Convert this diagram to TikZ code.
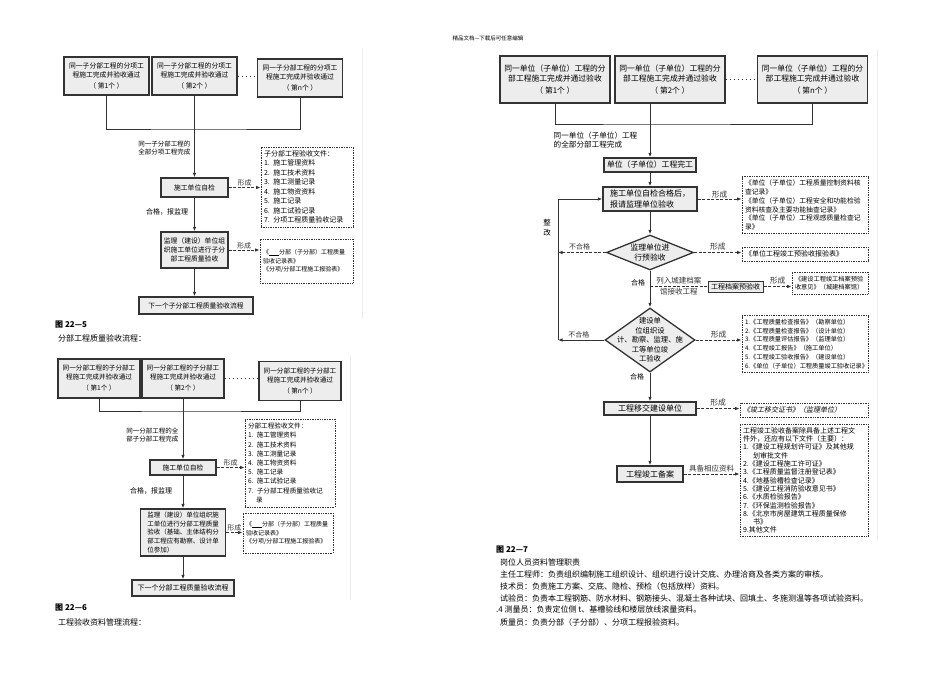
\documentclass[tikz,border=0pt]{standalone}
\usepackage{fontspec}
\setmainfont{Noto Sans CJK SC}
\newfontfamily\slantcjk[FakeSlant=0.2]{Noto Sans CJK SC}
\usetikzlibrary{arrows.meta,shapes.geometric}
\colorlet{boxgray}{black!7}
\colorlet{linegray}{black!80}
\colorlet{scanedge}{black!8}
\tikzset{
  procbox/.style={draw=linegray, line width=1.3pt, fill=boxgray, align=center, inner sep=1pt,
    font=\fontsize{6.8}{9}\selectfont},
  filebox/.style={draw=linegray, line width=0.8pt, dash pattern=on 0.8pt off 0.9pt, fill=white,
    align=left, inner sep=3pt, font=\fontsize{7}{9.5}\selectfont},
  decide/.style={diamond, draw=linegray, line width=1.3pt, fill=boxgray, inner sep=0pt},
  wire/.style={linegray, line width=1pt},
  flow/.style={wire, -{Latex[length=4.5pt,width=3.5pt]}},
  form/.style={flow, dash pattern=on 3pt off 1.5pt},
  gap/.style={wire, dash pattern=on 1pt off 3pt},
  tag/.style={inner sep=0.5pt, font=\fontsize{7}{8.5}\selectfont},
  caption/.style={anchor=west, inner sep=0pt, font=\fontsize{8}{9}\selectfont},
}

\begin{document}
\begin{tikzpicture}[x=1pt,y=-1pt]
  \useasboundingbox (0,0) rectangle (950,672);
  \node[font=\fontsize{5.5}{6}\selectfont] (head) at (488,38) {精品文档---下载后可任意编辑};
  % scan edges
  \draw[scanedge] (362,48) -- (362,318);
  \draw[scanedge] (350,355) -- (350,600);
  \draw[scanedge] (877,50) -- (877,540);

  % fig 22-5
  \foreach \i/\x/\y/\k in {1/106.5/76/1,2/194.5/76/2,3/300/78/n}{
    \node[procbox, minimum width=85, minimum height=38] (a\i) at (\x,\y)
      {同一子分部工程的分项工\\程施工完成并验收通过\\[2pt]（ 第\k 个 ）};
  }
  \draw[gap] (a2.east) -- (a2.east -| a3.west);
  \coordinate (a-join) at (194.5,129);
  \draw[wire] (a1.south) |- (a-join) -| (a3.south);
  \draw[wire] (a2.south) -- (a-join);
  \node[tag, align=right, anchor=east, font=\fontsize{6.5}{8.5}\selectfont] (a-done) at (191,148)
    {同一子分部工程的\\全部分项工程完成};
  \node[procbox, minimum width=67, minimum height=19] (a4) at (194.5,187.5) {施工单位自检};
  \draw[flow] (a-join) -- (a4.north);
  \node[filebox, text width=86, minimum height=80] (af1) at (307,187)
    {子分部工程验收文件：\\1. 施工管理资料\\2. 施工技术资料\\3. 施工测量记录\\4. 施工物资资料\\5. 施工记录\\6. 施工试验记录\\7. 分项工程质量验收记录};
  \draw[form] (a4.east) -- (a4.east -| af1.west) node[tag, midway, above] (a-form1) {形成};
  \node[tag] (a-ok) at (167,212) {合格，报监理};
  \node[procbox, minimum width=67, minimum height=36] (a5) at (194.5,250)
    {监理（建设）单位组\\织施工单位进行子分\\部工程质量验收};
  \draw[flow] (a4) -- (a5);
  \node[filebox, text width=87, minimum height=44, font=\fontsize{6}{8.5}\selectfont] (af2) at (306.5,261)
    {《\rule[-0.5pt]{10pt}{0.5pt}分部（子分部）工程质量\\验收记录表》\\《分项/分部工程施工报验表》};
  \draw[form] (a5.east) -- (a5.east -| af2.west) node[tag, midway, above] (a-form2) {形成};
  \node[procbox, minimum width=114, minimum height=17] (a6) at (196,305.5) {下一个子分部工程质量验收流程};
  \draw[flow] (a5.south) -- (a5.south |- a6.north);
  \node[caption, font=\bfseries\fontsize{8}{9}\selectfont] (fig5) at (55,325) {图 22—5};
  \node[caption] (fig5-t) at (58,338) {分部工程质量验收流程：};

  % fig 22-6
  \foreach \i/\x/\y/\k in {1/99/378.5/1,2/183/378.5/2,3/300/381/n}{
    \node[procbox, minimum width=82, minimum height=39, font=\fontsize{6.6}{9}\selectfont] (b\i) at (\x,\y)
      {同一分部工程的子分部工\\程施工完成并验收通过\\[2pt]（ 第\k 个 ）};
  }
  \draw[gap] (b2.east) -- (b2.east -| b3.west);
  \coordinate (b-join) at (183,411);
  \draw[wire] (b1.south) |- (b-join) -| (b3.south);
  \draw[wire] (b2.south) -- (b-join);
  \node[tag, align=right, anchor=east, font=\fontsize{6.5}{8.5}\selectfont] (b-done) at (179,435)
    {同一分部工程的全\\部子分部工程完成};
  \node[procbox, minimum width=66, minimum height=15] (b4) at (183,467.5) {施工单位自检};
  \draw[flow] (b-join) -- (b4.north);
  \node[filebox, text width=84, minimum height=88, font=\fontsize{6.6}{9.2}\selectfont] (bf1) at (290,463)
    {分部工程验收文件：\\1. 施工管理资料\\2. 施工技术资料\\3. 施工测量记录\\4. 施工物资资料\\5. 施工记录\\6. 施工试验记录\\7. 子分部工程质量验收记\\\hspace*{8pt}录};
  \draw[form] (b4.east) -- (b4.east -| bf1.west) node[tag, midway, above] (b-form1) {形成};
  \node[tag] (b-ok) at (151,491) {合格，报监理};
  \node[procbox, minimum width=85, minimum height=47, align=left, font=\fontsize{6.5}{8.6}\selectfont] (b5) at (183,532.5)
    {监理（建设）单位组织施\\工单位进行分部工程质量\\验收（基础、主体结构分\\部工程应有勘察、设计单\\位参加）};
  \draw[flow] (b4) -- (b5);
  \node[filebox, text width=84, minimum height=40, font=\fontsize{6}{8.5}\selectfont] (bf2) at (288,533)
    {《\rule[-0.5pt]{10pt}{0.5pt}分部（子分部）工程质量\\验收记录表》\\《分项/分部工程施工报验表》};
  \draw[form] (b5.east) -- (b5.east -| bf2.west) node[tag, midway, above] (b-form2) {形成};
  \node[procbox, minimum width=102, minimum height=16, font=\fontsize{7}{9}\selectfont] (b6) at (183,588) {下一个分部工程质量验收流程};
  \draw[flow] (b5) -- (b6);
  \node[caption, font=\bfseries\fontsize{8}{9}\selectfont] (fig6) at (55,608) {图 22—6};
  \node[caption] (fig6-t) at (58,622) {工程验收资料管理流程：};

  % fig 22-7
  \foreach \i/\x/\k in {1/555/1,2/670/2,3/812.5/n}{
    \node[procbox, minimum width=110, minimum height=47, font=\fontsize{7.8}{10}\selectfont] (c\i) at (\x,79.5)
      {同一单位（子单位）工程的分\\部工程施工完成并通过验收\\[2pt]（ 第\k 个 ）};
  }
  \draw[gap] (c2.east) -- (c3.west);
  \coordinate (c-join) at (650,124);
  \draw[wire] (c1.south) |- (c-join) -| (c3.south);
  \draw[wire] (c2.south -| c-join) -- (c-join);
  \node[tag, align=left, anchor=west, font=\fontsize{7.6}{9.5}\selectfont] (c-done) at (553,140)
    {同一单位（子单位）工程\\的全部分部工程完成};
  \node[procbox, minimum width=92, minimum height=14, font=\fontsize{7.8}{9}\selectfont] (c4) at (650,165) {单位（子单位）工程完工};
  \draw[flow] (c-join) -- (c4);
  \node[procbox, minimum width=94, minimum height=24, align=left, font=\fontsize{8}{10.5}\selectfont] (c5) at (650,199)
    {施工单位自检合格后，\\报请监理单位验收};
  \draw[flow] (c4) -- (c5);
  \node[filebox, text width=120, minimum height=56, font=\fontsize{6.8}{8.8}\selectfont] (cf1) at (805,205)
    {《单位（子单位）工程质量控制资料核\\查记录》\\《单位（子单位）工程安全和功能检验\\资料核查及主要功能抽查记录》\\《单位（子单位）工程观感质量检查记\\录》};
  \draw[form] (c5.east) -- (c5.east -| cf1.west) node[tag, midway, above, font=\fontsize{7.8}{9}\selectfont] (c-form1) {形成};

  \node[decide, minimum width=87, minimum height=35] (d1) at (650,252.5) {};
  \node[font=\fontsize{7.8}{10}\selectfont, align=center, inner sep=0pt] (d1t) at (d1) {监理单位进\\行预验收};
  \draw[flow] (c5) -- (d1);
  \coordinate (redo) at (558,0);
  \draw[form] (d1.west) -- (d1.west -| redo) node[tag, pos=0.55, above=1pt] (d1-no) {不合格};
  \node[filebox, text width=120, minimum height=14] (cf2) at (805,254) {《单位工程竣工预验收报验表》};
  \draw[form] (d1.east) -- (d1.east -| cf2.west) node[tag, midway, above=1pt, font=\fontsize{7.8}{9}\selectfont] (d1-form) {形成};
  \node[tag] (d1-ok) at (638,283) {合格};
  \node[procbox, minimum width=55, minimum height=11, line width=1pt, font=\fontsize{7}{8}\selectfont] (c6) at (735.5,286.5) {工程档案预验收};
  \coordinate (c-archive) at (650,286.5);
  \draw[wire, dash pattern=on 3pt off 1.5pt] (c-archive) -- (c6.west)
    node[tag, midway, above=1pt, font=\fontsize{7.5}{8}\selectfont] (c-arch1) {列入城建档案}
    node[tag, midway, below=1pt, font=\fontsize{7.5}{8}\selectfont] (c-arch2) {馆接收工程};
  \node[filebox, text width=70, minimum height=22, font=\fontsize{6.2}{8.5}\selectfont] (cf3) at (830,283)
    {《建设工程竣工档案预验\\收意见》（城建档案馆）};
  \draw[form] (c6.east) -- (c6.east -| cf3.west) node[tag, midway, above=1pt, font=\fontsize{7.8}{9}\selectfont] (c-form3) {形成};

  \node[decide, minimum width=90, minimum height=64] (d2) at (650,340) {};
  \node[font=\fontsize{7.3}{9.4}\selectfont, align=center, inner sep=0pt] (d2t) at (d2)
    {建设单\\位组织设\\计、勘察、监理、施\\工等单位竣\\工验收};
  \draw[flow] (d1) -- (d2);
  \draw[flow] (d2.west) -- (d2.west -| redo) node[tag, pos=0.55, above=1pt] (d2-no) {不合格};
  \draw[flow] (d2.west -| redo) |- (c5.west);
  \node[tag, align=center, font=\fontsize{7.5}{10}\selectfont] (redo-t) at (547,228) {整\\改};
  \node[filebox, text width=120, minimum height=56, font=\fontsize{6.2}{8.9}\selectfont] (cf4) at (805,344)
    {1.《工程质量检查报告》（勘察单位）\\2.《工程质量检查报告》（设计单位）\\3.《工程质量评估报告》（监理单位）\\4.《工程竣工报告》（施工单位）\\5.《工程竣工验收报告》（建设单位）\\6.《单位（子单位）工程质量竣工验收记录》};
  \draw[form] (d2.east) -- (d2.east -| cf4.west) node[tag, midway, above=1pt, font=\fontsize{7.8}{9}\selectfont] (d2-form) {形成};
  \node[tag] (d2-ok) at (637,377) {合格};
  \node[procbox, minimum width=92, minimum height=13, font=\fontsize{8}{9}\selectfont] (c7) at (650,408.5) {工程移交建设单位};
  \draw[flow] (d2) -- (c7);
  \node[filebox, text width=122, minimum height=14, font=\slantcjk\fontsize{7}{9}\selectfont] (cf5) at (804,410)
    {《竣工移交证书》（监理单位）};
  \draw[form] (c7.east) -- (c7.east -| cf5.west) node[tag, midway, above=1pt, font=\fontsize{7.8}{9}\selectfont] (c-form5) {形成};
  \node[procbox, minimum width=66, minimum height=16, font=\fontsize{8}{9}\selectfont] (c8) at (650,474) {工程竣工备案};
  \draw[flow] (c7) -- (c8);
  \node[filebox, text width=122, minimum height=109, font=\fontsize{7}{8.3}\selectfont] (cf6) at (804,480.5)
    {工程竣工验收备案除具备上述工程文\\件外，还应有以下文件（主要）：\\1.《建设工程规划许可证》及其他规\\\hspace*{10pt}划审批文件\\2.《建设工程施工许可证》\\3.《工程质量监督注册登记表》\\4.《地基验槽检查记录》\\5.《建设工程消防验收意见书》\\6.《水质检验报告》\\7.《环保监测检验报告》\\8.《北京市房屋建筑工程质量保修\\\hspace*{10pt}书》\\9.其他文件};
  \draw[form] (c8.east) -- (c8.east -| cf6.west) node[tag, midway, above=1pt, font=\fontsize{7.5}{9}\selectfont] (c-form6) {具备相应资料};

  \node[caption, font=\bfseries\fontsize{8}{9}\selectfont] (fig7) at (496,550) {图 22—7};
  \node[caption] (duty) at (500,562) {岗位人员资料管理职责};
  \node[caption] (duty1) at (500,574) {主任工程师：负责组织编制施工组织设计、组织进行设计交底、办理洽商及各类方案的审核。};
  \node[caption] (duty2) at (500,586) {技术员：负责施工方案、交底、隐检、预检（包括放样）资料。};
  \node[caption] (duty3) at (500,598) {试验员：负责本工程钢筋、防水材料、钢筋接头、混凝土各种试块、回填土、冬施测温等各项试验资料。};
  \node[caption] (duty4) at (496,609) {.4 测量员：负责定位侧 t、基槽验线和楼层放线滚量资料。};
  \node[caption] (duty5) at (500,622) {质量员：负责分部（子分部）、分项工程报验资料。};
\end{tikzpicture}
\end{document}
